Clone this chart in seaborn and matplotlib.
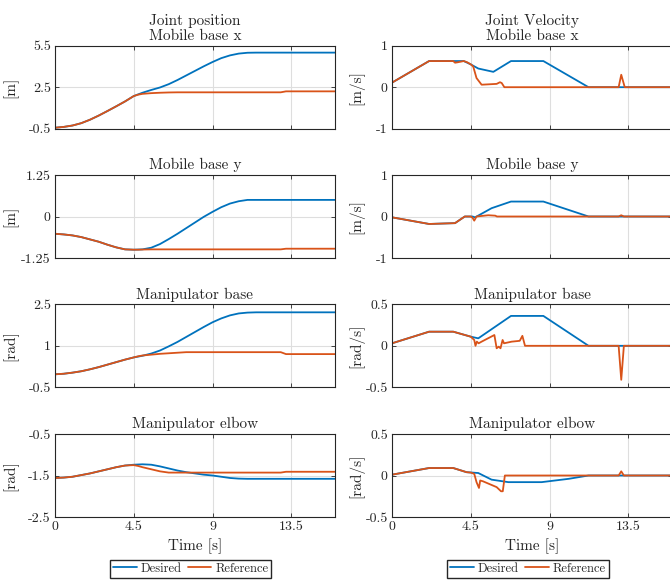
import matplotlib
matplotlib.use("Agg")
import matplotlib.pyplot as plt
import seaborn as sns
from matplotlib.lines import Line2D

# ---------------- data ----------------
t_des_pos = [0, 0.5, 1, 1.5, 2, 2.5, 3, 3.5, 4, 4.5, 5, 5.5, 6, 6.5, 7, 7.5, 8, 8.5,
             9, 9.5, 10, 10.5, 11, 11.5, 12, 16]
t_ref_pos = [0, 0.5, 1, 1.5, 2, 2.5, 3, 3.5, 4, 4.5, 4.75, 5, 5.5, 6, 6.5, 7, 7.5,
             12.9, 13.2, 16]

des_base_x = [-0.43, -0.37, -0.27, -0.10, 0.15, 0.45, 0.78, 1.12, 1.47, 1.86, 2.10, 2.30,
              2.48, 2.72, 3.02, 3.35, 3.68, 4.01, 4.32, 4.60, 4.80, 4.93, 4.99, 5.0, 5.0, 5.0]
ref_base_x = [-0.43, -0.37, -0.27, -0.10, 0.15, 0.45, 0.78, 1.12, 1.47, 1.86, 1.96, 2.02,
              2.07, 2.10, 2.12, 2.13, 2.13, 2.13, 2.20, 2.20]

des_base_y = [-0.52, -0.54, -0.57, -0.62, -0.69, -0.76, -0.85, -0.93, -0.99, -1.0, -0.99,
              -0.94, -0.83, -0.68, -0.52, -0.35, -0.18, -0.01, 0.14, 0.28, 0.39, 0.46,
              0.50, 0.50, 0.50, 0.50]
ref_base_y = [-0.52, -0.54, -0.57, -0.62, -0.69, -0.76, -0.85, -0.93, -0.99, -1.0, -1.0,
              -0.995, -0.99, -0.99, -0.99, -0.99, -0.99, -0.99, -0.97, -0.97]

des_manip_base = [-0.03, -0.01, 0.03, 0.08, 0.15, 0.23, 0.32, 0.41, 0.50, 0.58, 0.64, 0.72,
                  0.83, 0.98, 1.14, 1.32, 1.50, 1.68, 1.85, 1.99, 2.10, 2.17, 2.20, 2.21,
                  2.21, 2.21]
ref_manip_base = [-0.03, -0.01, 0.03, 0.08, 0.15, 0.23, 0.32, 0.41, 0.50, 0.58, 0.62, 0.65,
                  0.68, 0.71, 0.73, 0.75, 0.77, 0.77, 0.70, 0.70]

des_elbow = [-1.56, -1.55, -1.53, -1.49, -1.45, -1.40, -1.35, -1.30, -1.26, -1.24, -1.23,
             -1.24, -1.28, -1.33, -1.38, -1.42, -1.45, -1.48, -1.50, -1.53, -1.56, -1.575,
             -1.58, -1.58, -1.58, -1.58]
ref_elbow = [-1.56, -1.55, -1.53, -1.49, -1.45, -1.40, -1.35, -1.30, -1.26, -1.25, -1.27,
             -1.30, -1.35, -1.40, -1.43, -1.43, -1.43, -1.43, -1.41, -1.41]

# velocities
t_des_vx = [0, 2.12, 3.6, 4.1, 4.5, 4.93, 5.79, 6.8, 8.65, 11.23, 16]
des_vx = [0.11, 0.63, 0.63, 0.63, 0.55, 0.45, 0.37, 0.63, 0.63, 0.0, 0.0]
t_ref_vx = [0, 2.12, 3.5, 3.6, 3.75, 4.1, 4.3, 4.5, 4.64, 4.83, 5.12, 5.98, 6.17, 6.27,
            6.42, 12.95, 13.1, 13.3, 16]
ref_vx = [0.11, 0.63, 0.63, 0.59, 0.60, 0.63, 0.60, 0.55, 0.50, 0.22, 0.06, 0.08, 0.12,
          0.10, 0.0, 0.0, 0.30, 0.0, 0.0]

t_des_vy = [0, 2.12, 3.6, 4.16, 4.6, 4.75, 5.69, 6.8, 8.65, 11.23, 16]
des_vy = [-0.02, -0.18, -0.16, 0.0, 0.0, -0.02, 0.20, 0.36, 0.36, 0.0, 0.0]
t_ref_vy = [0, 2.12, 3.6, 4.16, 4.5, 4.6, 4.7, 4.83, 5.5, 5.9, 6.0, 12.95, 13.1, 13.25, 16]
ref_vy = [-0.02, -0.18, -0.16, 0.0, 0.0, -0.03, -0.10, 0.0, 0.03, 0.02, 0.0, 0.0, 0.03,
          0.0, 0.0]

t_des_vmb = [0, 2.12, 3.5, 4.5, 4.93, 6.8, 8.65, 11.23, 16]
des_vmb = [0.03, 0.17, 0.17, 0.11, 0.09, 0.36, 0.36, 0.0, 0.0]
t_ref_vmb = [0, 2.12, 3.5, 4.5, 4.7, 4.77, 4.85, 4.95, 5.12, 5.85, 5.98, 6.1, 6.2, 6.32,
             6.4, 6.84, 7.3, 7.45, 7.6, 12.95, 13.1, 13.25, 16]
ref_vmb = [0.03, 0.17, 0.17, 0.11, 0.07, 0.0, 0.05, 0.03, 0.05, 0.13, -0.03, -0.01, -0.03,
           0.07, 0.03, 0.05, 0.06, 0.12, 0.0, 0.0, -0.41, 0.0, 0.0]

t_des_vel = [0, 2.12, 3.5, 4.26, 4.93, 5.69, 6.65, 8.55, 10.1, 11.23, 16]
des_vel = [0.01, 0.09, 0.09, 0.04, 0.03, -0.05, -0.08, -0.08, -0.04, 0.0, 0.0]
t_ref_vel = [0, 2.12, 3.5, 4.26, 4.5, 4.7, 4.83, 4.97, 5.04, 5.2, 5.98, 6.23, 6.33, 6.45,
             12.95, 13.1, 13.25, 16]
ref_vel = [0.01, 0.09, 0.09, 0.04, 0.035, 0.02, -0.08, -0.15, -0.06, -0.07, -0.14, -0.19,
           -0.19, 0.0, 0.0, 0.05, 0.0, 0.0]

row_titles = ["Mobile base x", "Mobile base y", "Manipulator base", "Manipulator elbow"]
pos_units = ["[m]", "[m]", "[rad]", "[rad]"]
vel_units = ["[m/s]", "[m/s]", "[rad/s]", "[rad/s]"]
pos_ylims = [(-0.5, 5.5), (-1.25, 1.25), (-0.5, 2.5), (-2.5, -0.5)]
pos_yticks = [[-0.5, 2.5, 5.5], [-1.25, 0, 1.25], [-0.5, 1, 2.5], [-2.5, -1.5, -0.5]]
pos_yticklabels = [["-0.5", "2.5", "5.5"], ["-1.25", "0", "1.25"], ["-0.5", "1", "2.5"],
                   ["-2.5", "-1.5", "-0.5"]]
vel_ylims = [(-1, 1), (-1, 1), (-0.5, 0.5), (-0.5, 0.5)]
vel_yticks = [[-1, 0, 1], [-1, 0, 1], [-0.5, 0, 0.5], [-0.5, 0, 0.5]]
vel_yticklabels = [["-1", "0", "1"], ["-1", "0", "1"], ["-0.5", "0", "0.5"],
                   ["-0.5", "0", "0.5"]]
x_ticks = [0, 4.5, 9, 13.5]
x_ticklabels = ["0", "4.5", "9", "13.5"]
series_names = ["Desired", "Reference"]

pos_series = [(des_base_x, ref_base_x), (des_base_y, ref_base_y),
              (des_manip_base, ref_manip_base), (des_elbow, ref_elbow)]
vel_series = [((t_des_vx, des_vx), (t_ref_vx, ref_vx)),
              ((t_des_vy, des_vy), (t_ref_vy, ref_vy)),
              ((t_des_vmb, des_vmb), (t_ref_vmb, ref_vmb)),
              ((t_des_vel, des_vel), (t_ref_vel, ref_vel))]

# ---------------- style ----------------
sns.set_theme(style="white")
plt.rcParams["font.family"] = ["cmr10", "DejaVu Serif"]
plt.rcParams["axes.unicode_minus"] = False
plt.rcParams["mathtext.fontset"] = "cm"

BLUE = "#0072BD"
ORANGE = "#D95319"
AX_COL = "#262626"
GRID_COL = "#dedede"
LW = 1.3

fig = plt.figure(figsize=(6.7, 5.81), dpi=100)
W, H = 670.0, 581.0
tops = [45.7, 175.0, 304.3, 434.0]
ah = 83.0
col_x = [(55.0, 335.0), (392.0, 672.0)]
legend_cx = [190.5, 528.0]


def style_ax(ax, ylim, yticks, yticklabels, ylabel, label_x, show_x):
    ax.set_xlim(0, 16)
    ax.set_ylim(*ylim)
    ax.set_xticks(x_ticks)
    ax.set_yticks(yticks)
    ax.set_yticklabels(yticklabels)
    if show_x:
        ax.set_xticklabels(x_ticklabels)
        ax.set_xlabel("Time [s]", fontsize=11, color=AX_COL, labelpad=4)
    else:
        ax.set_xticklabels([])
        ax.set_xlabel("")
    ax.set_ylabel(ylabel, fontsize=11, color=AX_COL)
    ax.yaxis.set_label_coords(label_x, 0.5)
    ax.grid(True, color=GRID_COL, linewidth=0.8)
    ax.set_axisbelow(True)
    for s in ax.spines.values():
        s.set_color(AX_COL)
        s.set_linewidth(0.8)
    ax.tick_params(direction="in", length=3, width=0.6, colors=AX_COL,
                   labelsize=10, top=True, right=True, bottom=True, left=True, pad=3)


for r in range(4):
    bottom = 1 - (tops[r] + ah) / H
    for c in range(2):
        x0, x1 = col_x[c]
        ax = fig.add_axes([x0 / W, bottom, (x1 - x0) / W, ah / H])
        if c == 0:
            d, rf = pos_series[r]
            sns.lineplot(x=t_des_pos, y=d, ax=ax, color=BLUE, linewidth=LW, legend=False)
            sns.lineplot(x=t_ref_pos, y=rf, ax=ax, color=ORANGE, linewidth=LW, legend=False)
            style_ax(ax, pos_ylims[r], pos_yticks[r], pos_yticklabels[r], pos_units[r],
                     -0.13, r == 3)
            title = ("Joint position\n" if r == 0 else "") + row_titles[r]
        else:
            (td, vd), (tr, vr) = vel_series[r]
            sns.lineplot(x=td, y=vd, ax=ax, color=BLUE, linewidth=LW, legend=False,
                         sort=False)
            sns.lineplot(x=tr, y=vr, ax=ax, color=ORANGE, linewidth=LW, legend=False,
                         sort=False)
            style_ax(ax, vel_ylims[r], vel_yticks[r], vel_yticklabels[r], vel_units[r],
                     -0.10, r == 3)
            title = ("Joint Velocity\n" if r == 0 else "") + row_titles[r]
        ax.set_title(title, fontsize=11, color=AX_COL, pad=4, linespacing=1.1)
        if r == 3:
            handles = [Line2D([], [], color=BLUE, lw=LW), Line2D([], [], color=ORANGE, lw=LW)]
            fig.legend(handles, series_names, loc="upper center",
                       bbox_to_anchor=(legend_cx[c] / W, 1 - 559.5 / H), ncol=2, fontsize=9,
                       frameon=True, fancybox=False, edgecolor=AX_COL, framealpha=1,
                       handlelength=1.9, handletextpad=0.3, columnspacing=0.5,
                       borderpad=0.25, borderaxespad=0)

fig.savefig("out.png", dpi=100)
